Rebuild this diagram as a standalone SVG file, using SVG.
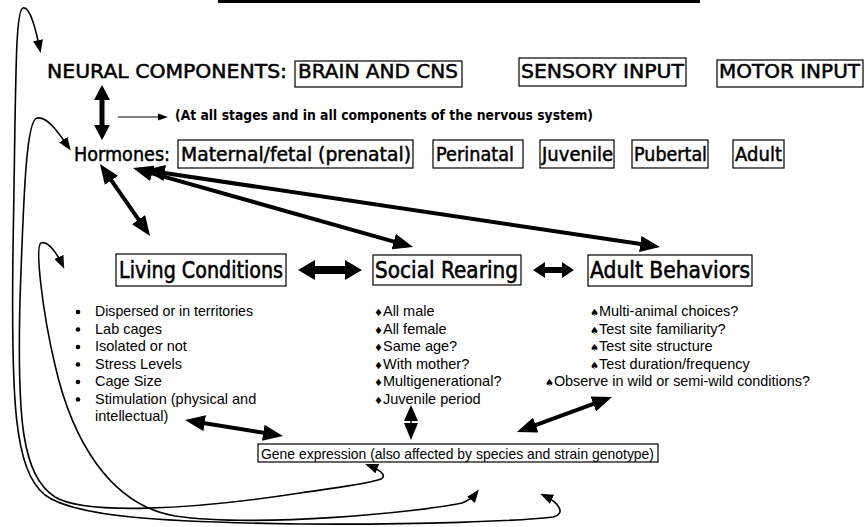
<svg xmlns="http://www.w3.org/2000/svg" width="865" height="527" viewBox="0 0 865 527">
<style>
.hd{font-family:"DejaVu Sans","Liberation Sans",sans-serif;font-size:19px;fill:#000;stroke:#000;stroke-width:0.5}
.big{font-family:"DejaVu Sans","Liberation Sans",sans-serif;font-size:23px;fill:#000;stroke:#000;stroke-width:0.6}
.note{font-family:"DejaVu Sans","Liberation Sans",sans-serif;font-size:14px;font-weight:bold;fill:#000}
.li{font-family:"Liberation Sans",Arial,sans-serif;font-size:14.5px;fill:#000}
.sym{font-family:"DejaVu Sans",sans-serif;font-size:10px}
.box{fill:none;stroke:#000;stroke-width:1.2}
.thick{fill:none;stroke:#000;stroke-width:4}
.curve{fill:none;stroke:#000;stroke-width:1.6}
.solid{fill:#000;stroke:none}
</style>
<defs>
<marker id="bh" markerUnits="userSpaceOnUse" markerWidth="20" markerHeight="16" refX="14" refY="8" orient="auto-start-reverse" viewBox="0 0 20 16">
<path d="M0,0 L20,8 L0,16 z" fill="#000"/>
</marker>
<marker id="sh" markerUnits="userSpaceOnUse" markerWidth="13" markerHeight="10" refX="10" refY="5" orient="auto-start-reverse" viewBox="0 0 13 10">
<path d="M0,0 L13,5 L0,10 z" fill="#000"/>
</marker>
</defs>
<rect width="865" height="527" fill="#fff"/>
<line x1="218" y1="1.5" x2="700" y2="1.5" stroke="#000" stroke-width="3"/>

<g id="neural-label"><text class="hd" x="47" y="78" textLength="240" lengthAdjust="spacingAndGlyphs">NEURAL COMPONENTS:</text></g>
<g id="brain"><rect class="box" x="295" y="61" width="167" height="26"/><text class="hd" x="298" y="78" textLength="160" lengthAdjust="spacingAndGlyphs">BRAIN AND CNS</text></g>
<g id="sensory"><rect class="box" x="519" y="58" width="167" height="28"/><text class="hd" x="521" y="78" textLength="163" lengthAdjust="spacingAndGlyphs">SENSORY INPUT</text></g>
<g id="motor"><rect class="box" x="717" y="60" width="146" height="27"/><text class="hd" x="719" y="78" textLength="141" lengthAdjust="spacingAndGlyphs">MOTOR INPUT</text></g>

<g id="note"><text class="note" x="175" y="120" textLength="418" lengthAdjust="spacingAndGlyphs">(At all stages and in all components of the nervous system)</text></g>

<g id="hormones-label"><text class="hd" x="74" y="161" textLength="96" lengthAdjust="spacingAndGlyphs">Hormones:</text></g>
<g id="maternal"><rect class="box" x="178" y="140" width="235" height="28"/><text class="hd" x="181" y="161" textLength="230" lengthAdjust="spacingAndGlyphs">Maternal/fetal (prenatal)</text></g>
<g id="perinatal"><rect class="box" x="433" y="140" width="90" height="28"/><text class="hd" x="436" y="161" textLength="78" lengthAdjust="spacingAndGlyphs">Perinatal</text></g>
<g id="juvenile"><rect class="box" x="540" y="140" width="74" height="28"/><text class="hd" x="542" y="161" textLength="71" lengthAdjust="spacingAndGlyphs">Juvenile</text></g>
<g id="pubertal"><rect class="box" x="632" y="140" width="76" height="28"/><text class="hd" x="634" y="161" textLength="73" lengthAdjust="spacingAndGlyphs">Pubertal</text></g>
<g id="adult"><rect class="box" x="733" y="140" width="51" height="28"/><text class="hd" x="735" y="161" textLength="47" lengthAdjust="spacingAndGlyphs">Adult</text></g>

<g id="living"><rect class="box" x="116" y="254" width="170" height="32"/><text class="big" x="119" y="278" textLength="164" lengthAdjust="spacingAndGlyphs">Living Conditions</text>
<g class="li">
<circle cx="78" cy="312" r="2.3"/><text x="95" y="316" textLength="158" lengthAdjust="spacingAndGlyphs">Dispersed or in territories</text>
<circle cx="78" cy="329.5" r="2.3"/><text x="95" y="333.5">Lab cages</text>
<circle cx="78" cy="347" r="2.3"/><text x="95" y="351">Isolated or not</text>
<circle cx="78" cy="364.5" r="2.3"/><text x="95" y="368.5">Stress Levels</text>
<circle cx="78" cy="382" r="2.3"/><text x="95" y="386">Cage Size</text>
<circle cx="78" cy="399.5" r="2.3"/><text x="95" y="403.5">Stimulation (physical and</text>
<text x="95" y="421">intellectual)</text>
</g></g>

<g id="social"><rect class="box" x="373" y="255" width="148" height="30"/><text class="big" x="375" y="278" textLength="143" lengthAdjust="spacingAndGlyphs">Social Rearing</text>
<g class="li">
<text x="374" y="316"><tspan class="sym">♦</tspan>All male</text>
<text x="374" y="333.5"><tspan class="sym">♦</tspan>All female</text>
<text x="374" y="351"><tspan class="sym">♦</tspan>Same age?</text>
<text x="374" y="368.5"><tspan class="sym">♦</tspan>With mother?</text>
<text x="374" y="386"><tspan class="sym">♦</tspan>Multigenerational?</text>
<text x="374" y="403.5"><tspan class="sym">♦</tspan>Juvenile period</text>
</g></g>

<g id="adultbeh"><rect class="box" x="588" y="255" width="164" height="31"/><text class="big" x="590" y="278" textLength="160" lengthAdjust="spacingAndGlyphs">Adult Behaviors</text>
<g class="li">
<text x="590" y="316"><tspan class="sym">♠</tspan>Multi-animal choices?</text>
<text x="590" y="333.5"><tspan class="sym">♠</tspan>Test site familiarity?</text>
<text x="590" y="351"><tspan class="sym">♠</tspan>Test site structure</text>
<text x="590" y="368.5"><tspan class="sym">♠</tspan>Test duration/frequency</text>
<text x="545" y="386" textLength="265" lengthAdjust="spacingAndGlyphs"><tspan class="sym">♠</tspan>Observe in wild or semi-wild conditions?</text>
</g></g>

<g id="gene"><rect class="box" x="258" y="444" width="400" height="18"/><text class="li" x="261" y="459" textLength="393" lengthAdjust="spacingAndGlyphs">Gene expression (also affected by species and strain genotype)</text></g>

<g id="connectors">
<polygon class="solid" points="102,85 110,100 104.5,100 104.5,125 110,125 102,140 94,125 99.5,125 99.5,100 94,100"/>
<line x1="118" y1="117" x2="160" y2="117" stroke="#000" stroke-width="1.2"/>
<polygon class="solid" points="158,113.5 168,117 158,120.5"/>
<line class="thick" x1="103.4" y1="168.9" x2="146.6" y2="231.1" marker-start="url(#bh)" marker-end="url(#bh)"/>
<line class="thick" x1="138.8" y1="169.6" x2="407.2" y2="245.4" marker-start="url(#bh)" marker-end="url(#bh)"/>
<line class="thick" x1="150.9" y1="170.9" x2="654.1" y2="246.1" marker-start="url(#bh)" marker-end="url(#bh)"/>
<polygon class="solid" points="298,270 315,260 315,266 345,266 345,260 362,270 345,280 345,274 315,274 315,280"/>
<polygon class="solid" points="533,270 545,262 545,267 562,267 562,262 574,270 562,278 562,273 545,273 545,278"/>
<polygon class="solid" points="411,405 418,421 404,421"/>
<polygon class="solid" points="404,423 418,423 411,440"/>
<line x1="411" y1="419" x2="411" y2="425" stroke="#000" stroke-width="1.5"/>
<line class="thick" x1="190.9" y1="421" x2="277.1" y2="435" marker-start="url(#bh)" marker-end="url(#bh)"/>
<line class="thick" x1="522.6" y1="429.9" x2="606.4" y2="399.1" marker-start="url(#bh)" marker-end="url(#bh)"/>
<path class="curve" d="M 40,50 C 36,30 30,6 23,8 C 15,10 16,80 13,250 C 11,400 14,470 45,495 C 75,517 160,522 300,524 C 420,525 520,521 553,517 C 566,514 560,503 543,495" marker-start="url(#sh)" marker-end="url(#sh)"/>
<path class="curve" d="M 69,148 C 60,135 48,116 37,118 C 27,120 24,180 20,300 C 17,420 22,475 55,497 C 85,515 190,510 300,493 C 340,487 368,484 381,479 C 388,475 378,469 368,465" marker-start="url(#sh)" marker-end="url(#sh)"/>
<path class="curve" d="M 63,266 C 58,255 48,240 41,243 C 35,246 42,310 55,365 C 72,440 110,505 175,516 C 260,528 420,512 462,503 C 470,500 474,496 477,492" marker-start="url(#sh)" marker-end="url(#sh)"/>
</g>
</svg>
